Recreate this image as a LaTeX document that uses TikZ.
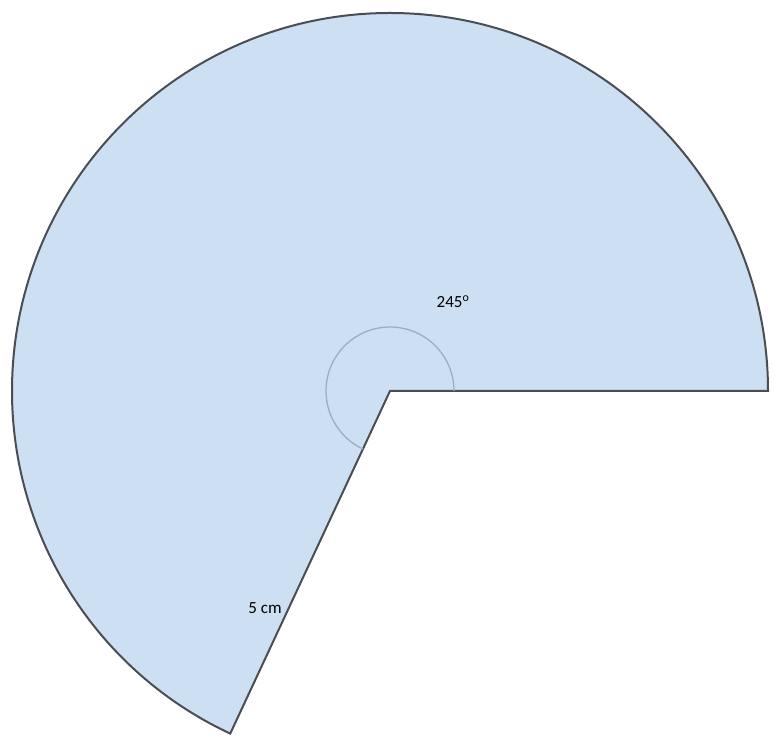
\documentclass[tikz,border=0pt]{standalone}
\usepackage{fontspec}
\setmainfont{Carlito}
\usetikzlibrary{calc}
\definecolor{sectorfill}{HTML}{CDDFF2}
\definecolor{sectorline}{HTML}{4A4D52}
\definecolor{anglearc}{HTML}{9AAEC6}
\tikzset{
  sector/.style={fill=sectorfill, draw=sectorline, line width=2pt, line join=miter},
  anglemark/.style={draw=anglearc, line width=1.3pt},
  lbl/.style={font=\fontsize{17}{19}\selectfont, inner sep=0pt}
}
\begin{document}
\begin{tikzpicture}[x=1pt,y=1pt]
\useasboundingbox (0,0) rectangle (778,736);
\coordinate (O) at (390,345);
\coordinate (A) at ($(O)+(0:378)$);
\coordinate (B) at ($(O)+(245:378)$);
\path[sector] (O) -- (A) arc[start angle=0, end angle=245, radius=378] -- cycle;
\draw[anglemark] ($(O)+(0:64)$) arc[start angle=0, end angle=245, radius=64];
\node[lbl] (ang) at (453,434) {245\textsuperscript{o}};
\node[lbl] (rad) at (265,128) {5 cm};
\end{tikzpicture}
\end{document}
